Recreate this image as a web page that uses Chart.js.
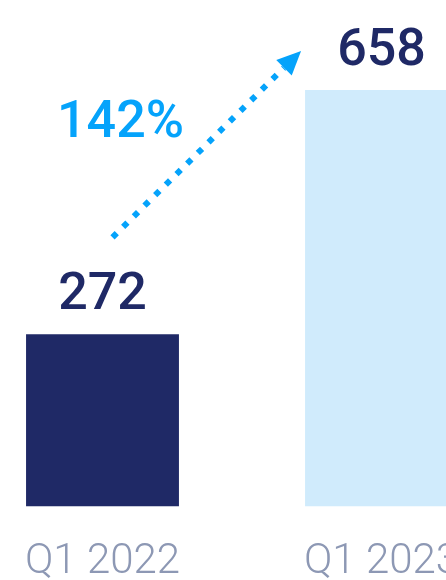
<!DOCTYPE html>
<html>
<head>
<meta charset="utf-8">
<script src="https://cdn.jsdelivr.net/npm/chart.js@4/dist/chart.umd.min.js"></script>
<style>
  html, body { margin: 0; padding: 0; background: #fff; overflow: hidden; }
  #wrap { position: relative; width: 446px; height: 580px; overflow: hidden; }
  #growthChart { position: absolute; left: -37px; top: 0; }
</style>
</head>
<body>
<div id="wrap"><canvas id="growthChart" width="558" height="619"></canvas></div>
<script>
// --- Data ---
const quarters = ['Q1 2022', 'Q1 2023'];
const counts = [272, 658];
const barColors = ['#1f2966', '#d0ebfc'];

const NAVY = '#1f2966';
const BLUE = '#05a3fb';
const FONT = 'Roboto, "Noto Sans", sans-serif';

// growth between the two quarters, shown next to the arrow
const growthPct = Math.round((counts[1] - counts[0]) / counts[0] * 100) + '%';

// --- Value labels above each bar ---
const valueLabels = {
  id: 'valueLabels',
  afterDatasetsDraw(chart) {
    const { ctx } = chart;
    const bars = chart.getDatasetMeta(0).data;
    ctx.save();
    ctx.font = '500 52px ' + FONT;
    ctx.fillStyle = NAVY;
    ctx.textAlign = 'center';
    ctx.textBaseline = 'alphabetic';
    bars.forEach((bar, i) => {
      ctx.fillText(counts[i], bar.x, bar.y - 25);
    });
    ctx.restore();
  }
};

// --- Dotted growth arrow + percentage ---
const growthArrow = {
  id: 'growthArrow',
  afterDatasetsDraw(chart) {
    const { ctx } = chart;
    const [b1, b2] = chart.getDatasetMeta(0).data;
    const x0 = b1.x + 10, y0 = b1.y - 97;
    const x1 = b2.x - b2.width / 2 - 4, y1 = b2.y - 39;
    const ang = Math.atan2(y1 - y0, x1 - x0);
    const headLen = 24, headW = 11;
    const bx = x1 - Math.cos(ang) * headLen, by = y1 - Math.sin(ang) * headLen;

    ctx.save();
    ctx.strokeStyle = BLUE;
    ctx.fillStyle = BLUE;
    ctx.lineWidth = 6;
    ctx.setLineDash([6, 9]);
    ctx.beginPath();
    ctx.moveTo(x0, y0);
    ctx.lineTo(bx, by);
    ctx.stroke();
    ctx.setLineDash([]);

    ctx.beginPath();
    ctx.moveTo(x1, y1);
    ctx.lineTo(bx + Math.sin(ang) * headW, by - Math.cos(ang) * headW);
    ctx.lineTo(bx - Math.sin(ang) * headW, by + Math.cos(ang) * headW);
    ctx.closePath();
    ctx.fill();

    ctx.font = '500 52px ' + FONT;
    ctx.textAlign = 'center';
    ctx.textBaseline = 'alphabetic';
    ctx.fillText(growthPct, b1.x + 18, b1.y - 197);
    ctx.restore();
  }
};

new Chart(document.getElementById('growthChart'), {
  type: 'bar',
  data: {
    labels: quarters,
    datasets: [{
      data: counts,
      backgroundColor: barColors,
      borderWidth: 0,
      categoryPercentage: 1,
      barPercentage: 0.548
    }]
  },
  options: {
    responsive: false,
    animation: false,
    layout: { padding: 0 },
    plugins: { legend: { display: false }, tooltip: { enabled: false } },
    scales: {
      y: { display: false, min: 0, max: 800 },
      x: {
        grid: { display: false, drawTicks: false },
        border: { display: false },
        ticks: {
          color: '#8d98b4',
          padding: 31,
          font: { family: FONT, size: 42, weight: '300' }
        }
      }
    }
  },
  plugins: [valueLabels, growthArrow]
});
</script>
</body>
</html>
